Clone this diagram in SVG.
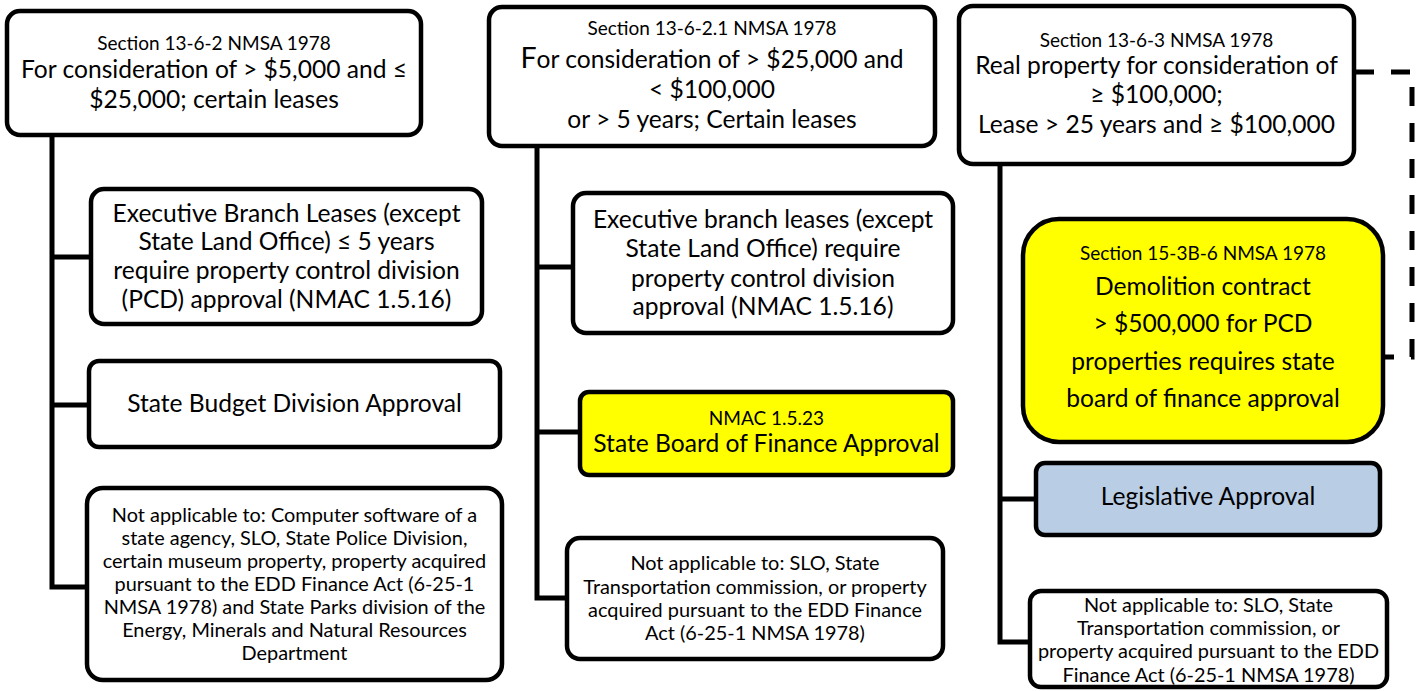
<svg xmlns="http://www.w3.org/2000/svg" width="1421" height="691" viewBox="0 0 1421 691">
<style>
.box{fill:#fff;stroke:#000;stroke-width:4.5}
.yel{fill:#ffff00;stroke:#000;stroke-width:4.5}
.blu{fill:#b9cde5;stroke:#000;stroke-width:4.5}
text{font-family:Lato,"Noto Sans",sans-serif;fill:#000;text-anchor:middle}
.m{font-size:24.6px}
.s{font-size:19px}
.n{font-size:19.9px}
.con{fill:none;stroke:#000;stroke-width:5;stroke-linejoin:miter;stroke-linecap:butt}
.dash{stroke-dasharray:19 17}
</style>
<rect width="1421" height="691" fill="#fff"/>
<g id="connectors">
<path class="con" d="M52,135 V587 H87 M52,257 H91 M52,405 H89"/>
<path class="con" d="M537,146 V598 H567 M537,267 H573 M537,432 H580"/>
<path class="con" d="M1000,164 V642 H1030 M1000,499 H1036"/>
<path class="con dash" d="M1355,72 H1412 V357 H1385"/>
</g>
<g id="n1">
<rect class="box" x="7" y="11" width="414" height="124" rx="13"/>
<text class="s" x="214" y="50">Section 13-6-2 NMSA 1978</text>
<text class="m" x="214" y="78">For consideration of &gt; $5,000 and ≤</text>
<text class="m" x="214" y="108">$25,000; certain leases</text>
</g>
<g id="n1a">
<rect class="box" x="91" y="189" width="391" height="135" rx="13"/>
<text class="m" x="286.5" y="222">Executive Branch Leases (except</text>
<text class="m" x="286.5" y="250">State Land Office) ≤ 5 years</text>
<text class="m" x="286.5" y="279">require property control division</text>
<text class="m" x="286.5" y="308">(PCD) approval (NMAC 1.5.16)</text>
</g>
<g id="n1b">
<rect class="box" x="89" y="361" width="411" height="86" rx="10"/>
<text class="m" x="294.5" y="412">State Budget Division Approval</text>
</g>
<g id="n1c">
<rect class="box" x="87" y="488" width="415" height="192" rx="16"/>
<text class="n" x="294.5" y="522">Not applicable to: Computer software of a</text>
<text class="n" x="294.5" y="545">state agency, SLO, State Police Division,</text>
<text class="n" x="294.5" y="568">certain museum property, property acquired</text>
<text class="n" x="294.5" y="591">pursuant to the EDD Finance Act (6-25-1</text>
<text class="n" x="294.5" y="614">NMSA 1978) and State Parks division of the</text>
<text class="n" x="294.5" y="637">Energy, Minerals and Natural Resources</text>
<text class="n" x="294.5" y="660">Department</text>
</g>
<g id="n2">
<rect class="box" x="489" y="7" width="446" height="139" rx="13"/>
<text class="s" x="712" y="35">Section 13-6-2.1 NMSA 1978</text>
<text class="m" x="712" y="68"><tspan font-size="28.5">F</tspan>or consideration of &gt; $25,000 and</text>
<text class="m" x="712" y="98">&lt; $100,000</text>
<text class="m" x="712" y="128">or &gt; 5 years; Certain leases</text>
</g>
<g id="n2a">
<rect class="box" x="573" y="193" width="380" height="140" rx="13"/>
<text class="m" x="763" y="228">Executive branch leases (except</text>
<text class="m" x="763" y="257">State Land Office) require</text>
<text class="m" x="763" y="287">property control division</text>
<text class="m" x="763" y="315">approval (NMAC 1.5.16)</text>
</g>
<g id="n2b">
<rect class="yel" x="580" y="392" width="373" height="83" rx="9"/>
<text class="s" x="766.5" y="425">NMAC 1.5.23</text>
<text class="m" x="766.5" y="452">State Board of Finance Approval</text>
</g>
<g id="n2c">
<rect class="box" x="567" y="538" width="376" height="121" rx="13"/>
<text class="n" x="755" y="570">Not applicable to: SLO, State</text>
<text class="n" x="755" y="594">Transportation commission, or property</text>
<text class="n" x="755" y="617">acquired pursuant to the EDD Finance</text>
<text class="n" x="755" y="640">Act (6-25-1 NMSA 1978)</text>
</g>
<g id="n3">
<rect class="box" x="959" y="6" width="395" height="158" rx="14"/>
<text class="s" x="1156.5" y="47">Section 13-6-3 NMSA 1978</text>
<text class="m" x="1156.5" y="74">Real property for consideration of</text>
<text class="m" x="1156.5" y="103">≥ $100,000;</text>
<text class="m" x="1156.5" y="133">Lease &gt; 25 years and ≥ $100,000</text>
</g>
<g id="n3a">
<rect class="yel" x="1023" y="219" width="360" height="223" rx="36"/>
<text class="s" x="1203" y="260">Section 15-3B-6 NMSA 1978</text>
<text class="m" x="1203" y="295">Demolition contract</text>
<text class="m" x="1203" y="332">&gt; $500,000 for PCD</text>
<text class="m" x="1203" y="370">properties requires state</text>
<text class="m" x="1203" y="407">board of finance approval</text>
</g>
<g id="n3b">
<rect class="blu" x="1036" y="463" width="344" height="72" rx="9"/>
<text class="m" x="1208" y="505">Legislative Approval</text>
</g>
<g id="n3c">
<rect class="box" x="1030" y="591" width="357" height="96" rx="11"/>
<text class="n" x="1208.5" y="612">Not applicable to: SLO, State</text>
<text class="n" x="1208.5" y="635">Transportation commission, or</text>
<text class="n" x="1208.5" y="658">property acquired pursuant to the EDD</text>
<text class="n" x="1208.5" y="682">Finance Act (6-25-1 NMSA 1978)</text>
</g>
</svg>
